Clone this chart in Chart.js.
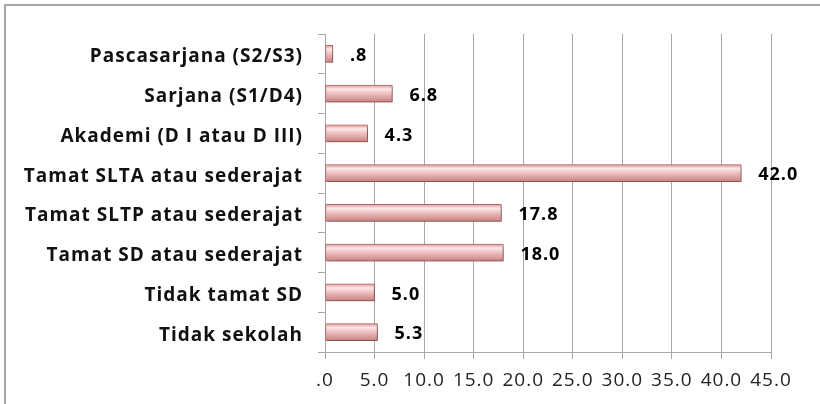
<!DOCTYPE html>
<html>
<head>
<meta charset="utf-8">
<script src="https://cdn.jsdelivr.net/npm/chart.js@4/dist/chart.umd.min.js"></script>
<style>
  html, body { margin: 0; padding: 0; background: #fff; }
  #wrap { position: relative; width: 820px; height: 404px; }
  #frame { position: absolute; left: 4px; top: 4px; right: 0; bottom: 0;
           border-top: 2px solid #a6a6a6; border-left: 2px solid #a6a6a6; pointer-events: none; }
</style>
</head>
<body>
<div id="wrap">
  <canvas id="chart" width="820" height="404"></canvas>
  <div id="frame"></div>
</div>
<script>
const categories = [
  'Pascasarjana (S2/S3)',
  'Sarjana (S1/D4)',
  'Akademi (D I atau D III)',
  'Tamat SLTA atau sederajat',
  'Tamat SLTP atau sederajat',
  'Tamat SD atau sederajat',
  'Tidak tamat SD',
  'Tidak sekolah',
];
const values = [0.8, 6.8, 4.3, 42.0, 17.8, 18.0, 5.0, 5.3];
const xTicks = [0, 5, 10, 15, 20, 25, 30, 35, 40, 45];

const FONT = '"Open Sans", "DejaVu Sans", sans-serif';

// excel style "#.0": 0.8 -> ".8", 0 -> ".0"
const fmt = v => v.toFixed(1).replace(/^0\./, '.');

function barFill(ctx) {
  const chart = ctx.chart;
  const y = chart.scales.y;
  if (!chart.chartArea || !y) return '#eab4b4';
  const c = y.getPixelForValue(ctx.dataIndex);
  const g = chart.ctx.createLinearGradient(0, c - 8, 0, c + 8);
  g.addColorStop(0, '#e2a4a4');
  g.addColorStop(0.22, '#fbe8e8');
  g.addColorStop(0.45, '#f1c6c6');
  g.addColorStop(1, '#cc8383');
  return g;
}

// the original text is wide, so space the letters a little
const spacing = {
  id: 'spacing',
  beforeDraw(chart) { chart.ctx.letterSpacing = '1px'; }
};

const shadow = {
  id: 'shadow',
  beforeDatasetDraw(chart) {
    const c = chart.ctx;
    c.save();
    c.shadowColor = 'rgba(0,0,0,0.35)';
    c.shadowBlur = 4;
    c.shadowOffsetX = 2;
    c.shadowOffsetY = 2;
  },
  afterDatasetDraw(chart) { chart.ctx.restore(); }
};

const valueLabels = {
  id: 'valueLabels',
  afterDraw(chart) {
    const c = chart.ctx;
    const meta = chart.getDatasetMeta(0);
    c.save();
    c.font = 'bold 18px ' + FONT;
    c.fillStyle = '#000';
    c.textAlign = 'left';
    c.textBaseline = 'middle';
    meta.data.forEach((el, i) => {
      c.fillText(fmt(values[i]), el.x + 17, el.y + 2);
    });
    c.restore();
  }
};

new Chart(document.getElementById('chart'), {
  type: 'bar',
  data: {
    labels: categories,
    datasets: [{
      data: values,
      backgroundColor: barFill,
      borderColor: '#b87070',
      borderWidth: 1,
      borderSkipped: false,
      barThickness: 17,
    }]
  },
  options: {
    indexAxis: 'y',
    responsive: false,
    animation: false,
    events: [],
    layout: { padding: { top: 34, right: 49, left: 0, bottom: 0 } },
    plugins: { legend: { display: false }, tooltip: { enabled: false } },
    scales: {
      x: {
        min: 0, max: 45,
        afterBuildTicks: s => { s.ticks = xTicks.map(v => ({ value: v })); },
        afterFit: s => { s.height = 52; },
        grid: { color: '#a8a8a8', lineWidth: 1, tickLength: 7, tickColor: '#a8a8a8' },
        border: { color: '#a8a8a8' },
        ticks: {
          padding: 10,
          color: '#222',
          font: { family: FONT, size: 19 },
          callback: v => fmt(v),
        }
      },
      y: {
        afterFit: s => { s.width = 325; },
        grid: { drawOnChartArea: false, drawTicks: true, tickLength: 7, color: '#a8a8a8', offset: true },
        border: { color: '#a8a8a8' },
        ticks: {
          padding: 15,
          labelOffset: 3,
          color: '#111',
          font: { family: FONT, size: 19, weight: 'bold' },
        }
      }
    }
  },
  plugins: [spacing, shadow, valueLabels]
});
</script>
</body>
</html>
